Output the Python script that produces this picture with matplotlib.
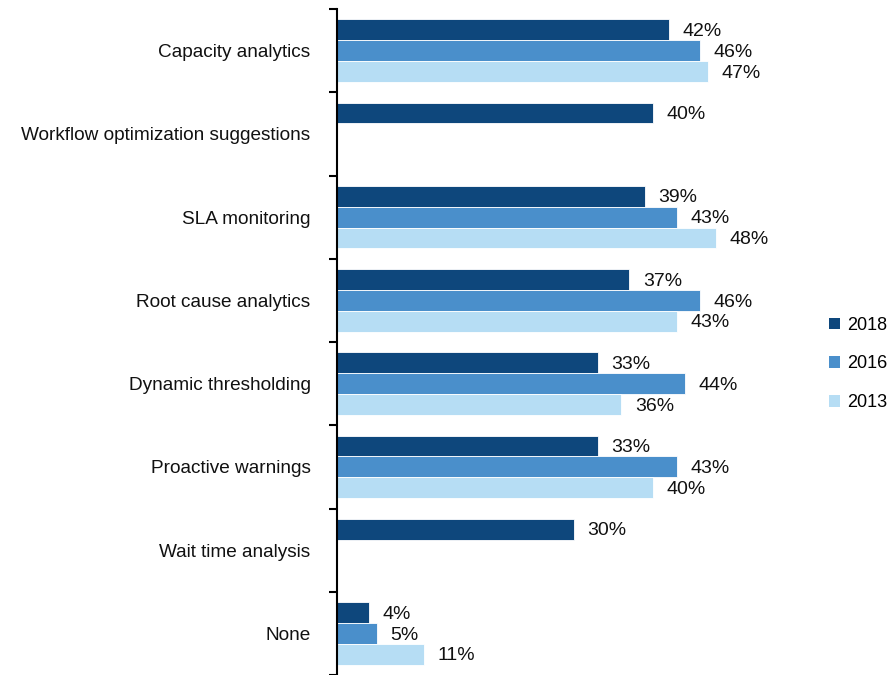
import numpy as np
import matplotlib
matplotlib.use("Agg")
import matplotlib.pyplot as plt
from matplotlib.patches import Patch

plt.rcParams["font.family"] = ["Liberation Sans", "DejaVu Sans"]

categories = ["Capacity analytics", "Workflow optimization suggestions", "SLA monitoring",
              "Root cause analytics", "Dynamic thresholding", "Proactive warnings",
              "Wait time analysis", "None"]
years = ["2018", "2016", "2013"]
v2018 = [42, 40, 39, 37, 33, 33, 30, 4]
v2016 = [46, np.nan, 43, 46, 44, 43, np.nan, 5]
v2013 = [47, np.nan, 48, 43, 36, 40, np.nan, 11]
colors = ["#0E477C", "#4A8FCB", "#B6DDF4"]

fig = plt.figure(figsize=(8.94, 6.75), dpi=100)
ax = fig.add_axes([337 / 894, 0, 1 - 337 / 894, 1 - 9 / 675])

y = np.arange(len(categories))
bh = 0.25
for i, (vals, c) in enumerate(zip([v2018, v2016, v2013], colors)):
    pos = y + (i - 1) * bh
    vals = np.array(vals, dtype=float)
    ok = ~np.isnan(vals)
    ax.barh(pos[ok], vals[ok], height=bh, color=c, edgecolor="white", linewidth=0.6)
    for p, v in zip(pos[ok], vals[ok]):
        ax.text(v + 1.7, p + 0.02, f"{v:.0f}%", va="center", ha="left", fontsize=14, color="#111111")

ax.set_ylim(len(categories) - 0.5, -0.5)
ax.set_xlim(0, 70.5)
ax.set_yticks(y)
ax.set_yticklabels(categories, fontsize=13.7, color="#111111")
ax.tick_params(axis="y", which="major", length=0, pad=19)
ax.set_yticks(np.arange(-0.5, len(categories)), minor=True)
ax.tick_params(axis="y", which="minor", length=6, width=1.5, direction="out")
ax.set_xticks([])
for s in ["top", "right", "bottom"]:
    ax.spines[s].set_visible(False)
ax.spines["left"].set_linewidth(1.5)

handles = [Patch(facecolor=c, label=yr) for c, yr in zip(colors, years)]
fig.legend(handles=handles, loc="center left", bbox_to_anchor=(822 / 894, 1 - 364 / 675),
           frameon=False, fontsize=13, handlelength=0.6, handleheight=0.6,
           handletextpad=0.4, labelspacing=1.2, borderaxespad=0)

fig.savefig("out.png", dpi=100)
